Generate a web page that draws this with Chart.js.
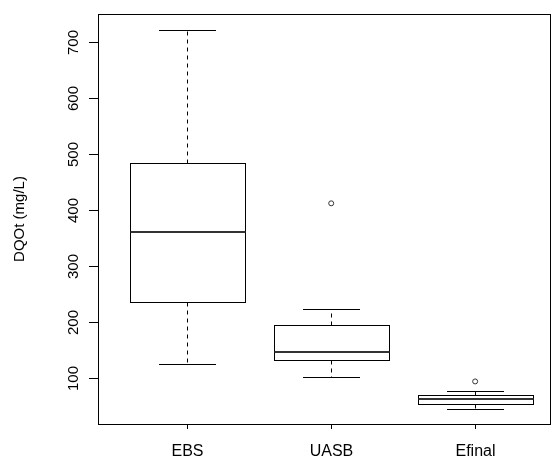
<!DOCTYPE html>
<html>
<head>
<meta charset="utf-8">
<title>DQOt</title>
<script src="https://cdn.jsdelivr.net/npm/chart.js@4.4.0/dist/chart.umd.min.js"></script>
<style>
  html, body { margin: 0; padding: 0; background: #fff; }
  canvas { display: block; }
</style>
</head>
<body>
<canvas id="dqo" width="555" height="460"></canvas>
<script>
// DQOt por etapa: resumen de cinco números + valores atípicos
const categorias = ['EBS', 'UASB', 'Efinal'];
const bigoteInf = [125, 102, 45];
const cuartil1  = [236, 132, 54];
const mediana   = [361, 146, 62];
const cuartil3  = [484, 195, 69];
const bigoteSup = [722, 223, 77];
const atipicos  = [[], [412], [94]];
const ticksY = [100, 200, 300, 400, 500, 600, 700];

const FUENTE = '15px "Liberation Sans", Arial, sans-serif';
const FUENTE_X = '16px "Liberation Sans", Arial, sans-serif';
const TINTA = '#000';

// puntos atípicos como dataset de dispersión (x = índice de categoría)
const puntosAtipicos = [];
atipicos.forEach((vals, i) => vals.forEach(v => puntosAtipicos.push({ x: i + 1, y: v })));

// cajas, bigotes, marco y ejes dibujados con las escalas del gráfico
const cajasPlugin = {
  id: 'cajas',
  beforeDatasetsDraw(chart) {
    const ctx = chart.ctx;
    const xs = chart.scales.x, ys = chart.scales.y;
    const a = chart.chartArea;
    ctx.save();
    ctx.strokeStyle = TINTA;
    ctx.lineWidth = 1;

    categorias.forEach((c, i) => {
      const cx = Math.round(xs.getPixelForValue(i + 1)) + 0.5;
      const mitad = xs.getPixelForValue(i + 1.4) - xs.getPixelForValue(i + 1);
      const grapa = xs.getPixelForValue(i + 1.2) - xs.getPixelForValue(i + 1);
      const py = v => Math.round(ys.getPixelForValue(v)) + 0.5;

      // bigotes punteados
      ctx.setLineDash([4, 4]);
      ctx.beginPath();
      ctx.moveTo(cx, py(cuartil3[i])); ctx.lineTo(cx, py(bigoteSup[i]));
      ctx.moveTo(cx, py(cuartil1[i])); ctx.lineTo(cx, py(bigoteInf[i]));
      ctx.stroke();
      ctx.setLineDash([]);

      // grapas
      ctx.beginPath();
      ctx.moveTo(Math.round(cx - grapa), py(bigoteSup[i])); ctx.lineTo(Math.round(cx + grapa), py(bigoteSup[i]));
      ctx.moveTo(Math.round(cx - grapa), py(bigoteInf[i])); ctx.lineTo(Math.round(cx + grapa), py(bigoteInf[i]));
      ctx.stroke();

      // caja
      const x0 = Math.round(cx - mitad) + 0.5, x1 = Math.round(cx + mitad) + 0.5;
      ctx.fillStyle = '#fff';
      ctx.fillRect(x0, py(cuartil3[i]), x1 - x0, py(cuartil1[i]) - py(cuartil3[i]));
      ctx.strokeRect(x0, py(cuartil3[i]), x1 - x0, py(cuartil1[i]) - py(cuartil3[i]));

      // mediana
      ctx.lineWidth = 2;
      ctx.strokeStyle = '#333';
      ctx.beginPath();
      ctx.moveTo(x0, Math.round(ys.getPixelForValue(mediana[i])));
      ctx.lineTo(x1, Math.round(ys.getPixelForValue(mediana[i])));
      ctx.stroke();
      ctx.lineWidth = 1;
      ctx.strokeStyle = TINTA;
    });

    // marco
    ctx.strokeRect(Math.round(a.left) + 0.5, Math.round(a.top) + 0.5,
                   Math.round(a.right - a.left), Math.round(a.bottom - a.top));

    // eje y: marcas y etiquetas giradas
    ctx.font = FUENTE;
    ctx.fillStyle = TINTA;
    ctx.textAlign = 'center';
    ctx.textBaseline = 'middle';
    ticksY.forEach(t => {
      const y = Math.round(ys.getPixelForValue(t)) + 0.5;
      ctx.beginPath();
      ctx.moveTo(a.left - 9, y); ctx.lineTo(a.left, y);
      ctx.stroke();
      ctx.save();
      ctx.translate(74, y);
      ctx.rotate(-Math.PI / 2);
      ctx.fillText(String(t), 0, 0);
      ctx.restore();
    });

    // título del eje y
    ctx.save();
    ctx.translate(20, (a.top + a.bottom) / 2);
    ctx.rotate(-Math.PI / 2);
    ctx.fillText('DQOt (mg/L)', 0, 0);
    ctx.restore();

    // eje x: marcas y categorías
    ctx.font = FUENTE_X;
    categorias.forEach((c, i) => {
      const x = Math.round(xs.getPixelForValue(i + 1)) + 0.5;
      ctx.beginPath();
      ctx.moveTo(x, a.bottom); ctx.lineTo(x, a.bottom + 5);
      ctx.stroke();
      ctx.fillText(c, x, 452);
    });
    ctx.restore();
  }
};

new Chart(document.getElementById('dqo'), {
  type: 'scatter',
  data: {
    datasets: [{
      data: puntosAtipicos,
      pointStyle: 'circle',
      pointRadius: 2.5,
      pointBorderWidth: 1,
      pointBorderColor: '#333',
      pointBackgroundColor: '#fff'
    }]
  },
  options: {
    responsive: false,
    animation: false,
    layout: { padding: { left: 98, top: 14, right: 5, bottom: 36 } },
    plugins: { legend: { display: false }, tooltip: { enabled: false } },
    scales: {
      x: { type: 'linear', min: 0.38, max: 3.52, display: false },
      y: { type: 'linear', min: 18, max: 750, display: false }
    }
  },
  plugins: [cajasPlugin]
});
</script>
</body>
</html>
